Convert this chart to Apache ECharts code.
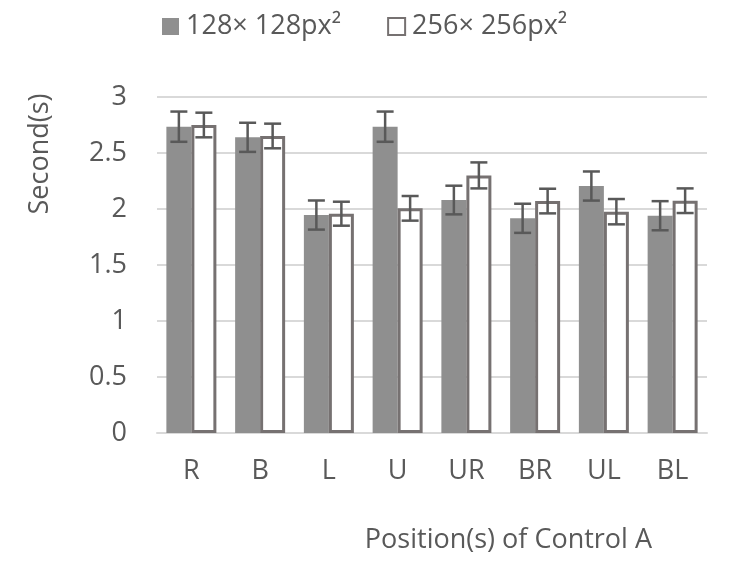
<!DOCTYPE html>
<html><head><meta charset="utf-8">
<script src="https://cdn.jsdelivr.net/npm/echarts@6/dist/echarts.min.js"></script>
<style>html,body{margin:0;padding:0;background:#fff}#c{width:738px;height:571px}</style>
</head><body><div id="c"></div>
<script>
const categories = ['R','B','L','U','UR','BR','UL','BL'];
const seriesNames = ['128× 128px²','256× 256px²'];
const small = [2.735, 2.64, 1.946, 2.735, 2.08, 1.917, 2.205, 1.94];
const smallErr = [0.135, 0.13, 0.13, 0.135, 0.128, 0.13, 0.13, 0.13];
const large = [2.75, 2.652, 1.958, 2.006, 2.30, 2.071, 1.976, 2.074];
const largeErr = [0.11, 0.11, 0.107, 0.11, 0.116, 0.11, 0.113, 0.11];
const yTicks = [0, 0.5, 1, 1.5, 2, 2.5, 3];

const FONT = 'Open Sans';
const TXT = '#595959';
const BW = 25;

function errData(vals, errs){ return vals.map((v,i)=>[i, v-errs[i], v+errs[i]]); }
function errRender(offset){
  return function(params, api){
    const lo = api.coord([api.value(0), api.value(1)]);
    const hi = api.coord([api.value(0), api.value(2)]);
    const x = lo[0] + offset;
    const cap = 8.5;
    const st = {stroke:'#595959', lineWidth:2.5};
    return {type:'group', children:[
      {type:'line', shape:{x1:x,y1:lo[1],x2:x,y2:hi[1]}, style:st},
      {type:'line', shape:{x1:x-cap,y1:lo[1],x2:x+cap,y2:lo[1]}, style:st},
      {type:'line', shape:{x1:x-cap,y1:hi[1],x2:x+cap,y2:hi[1]}, style:st}
    ]};
  };
}

const chart = echarts.init(document.getElementById('c'));
chart.setOption({
  animation:false,
  backgroundColor:'#fff',
  textStyle:{fontFamily:FONT},
  legend:{
    data:seriesNames, left:157, top:8, icon:'rect', itemWidth:17, itemHeight:17, itemGap:46,
    textStyle:{fontFamily:FONT, fontSize:27, color:TXT, padding:[0,0,0,2]}
  },
  grid:{left:157, right:31, top:97, bottom:138},
  xAxis:{
    type:'category', data:categories,
    axisLine:{lineStyle:{color:'#d9d9d9', width:2}},
    axisTick:{show:false},
    axisLabel:{fontFamily:FONT, fontSize:27, color:TXT, margin:25}
  },
  yAxis:{
    type:'value', min:0, max:3, interval:0.5,
    axisLine:{show:false}, axisTick:{show:false},
    splitLine:{lineStyle:{color:'#d9d9d9', width:2}},
    axisLabel:{fontFamily:FONT, fontSize:27, color:TXT, margin:30}
  },
  graphic:[
    {type:'text', x:40, y:154, rotation:Math.PI/2,
     style:{text:'Second(s)', font:'27px "Open Sans"', fill:TXT, textAlign:'center', textVerticalAlign:'middle'}},
    {type:'text', x:652, y:540,
     style:{text:'Position(s) of Control A', font:'27px "Open Sans"', fill:TXT, textAlign:'right', textVerticalAlign:'middle'}}
  ],
  series:[
    {name:seriesNames[0], type:'bar', data:small, barWidth:BW, barGap:'0%',
     itemStyle:{color:'#8f8f8f'}},
    {name:seriesNames[1], type:'bar', data:large, barWidth:BW,
     itemStyle:{color:'#ffffff', borderColor:'#767171', borderWidth:3}},
    {type:'custom', data:errData(small, smallErr), renderItem:errRender(-BW/2), encode:{x:0,y:[1,2]}, z:5},
    {type:'custom', data:errData(large, largeErr), renderItem:errRender(BW/2), encode:{x:0,y:[1,2]}, z:5}
  ]
});
</script></body></html>
